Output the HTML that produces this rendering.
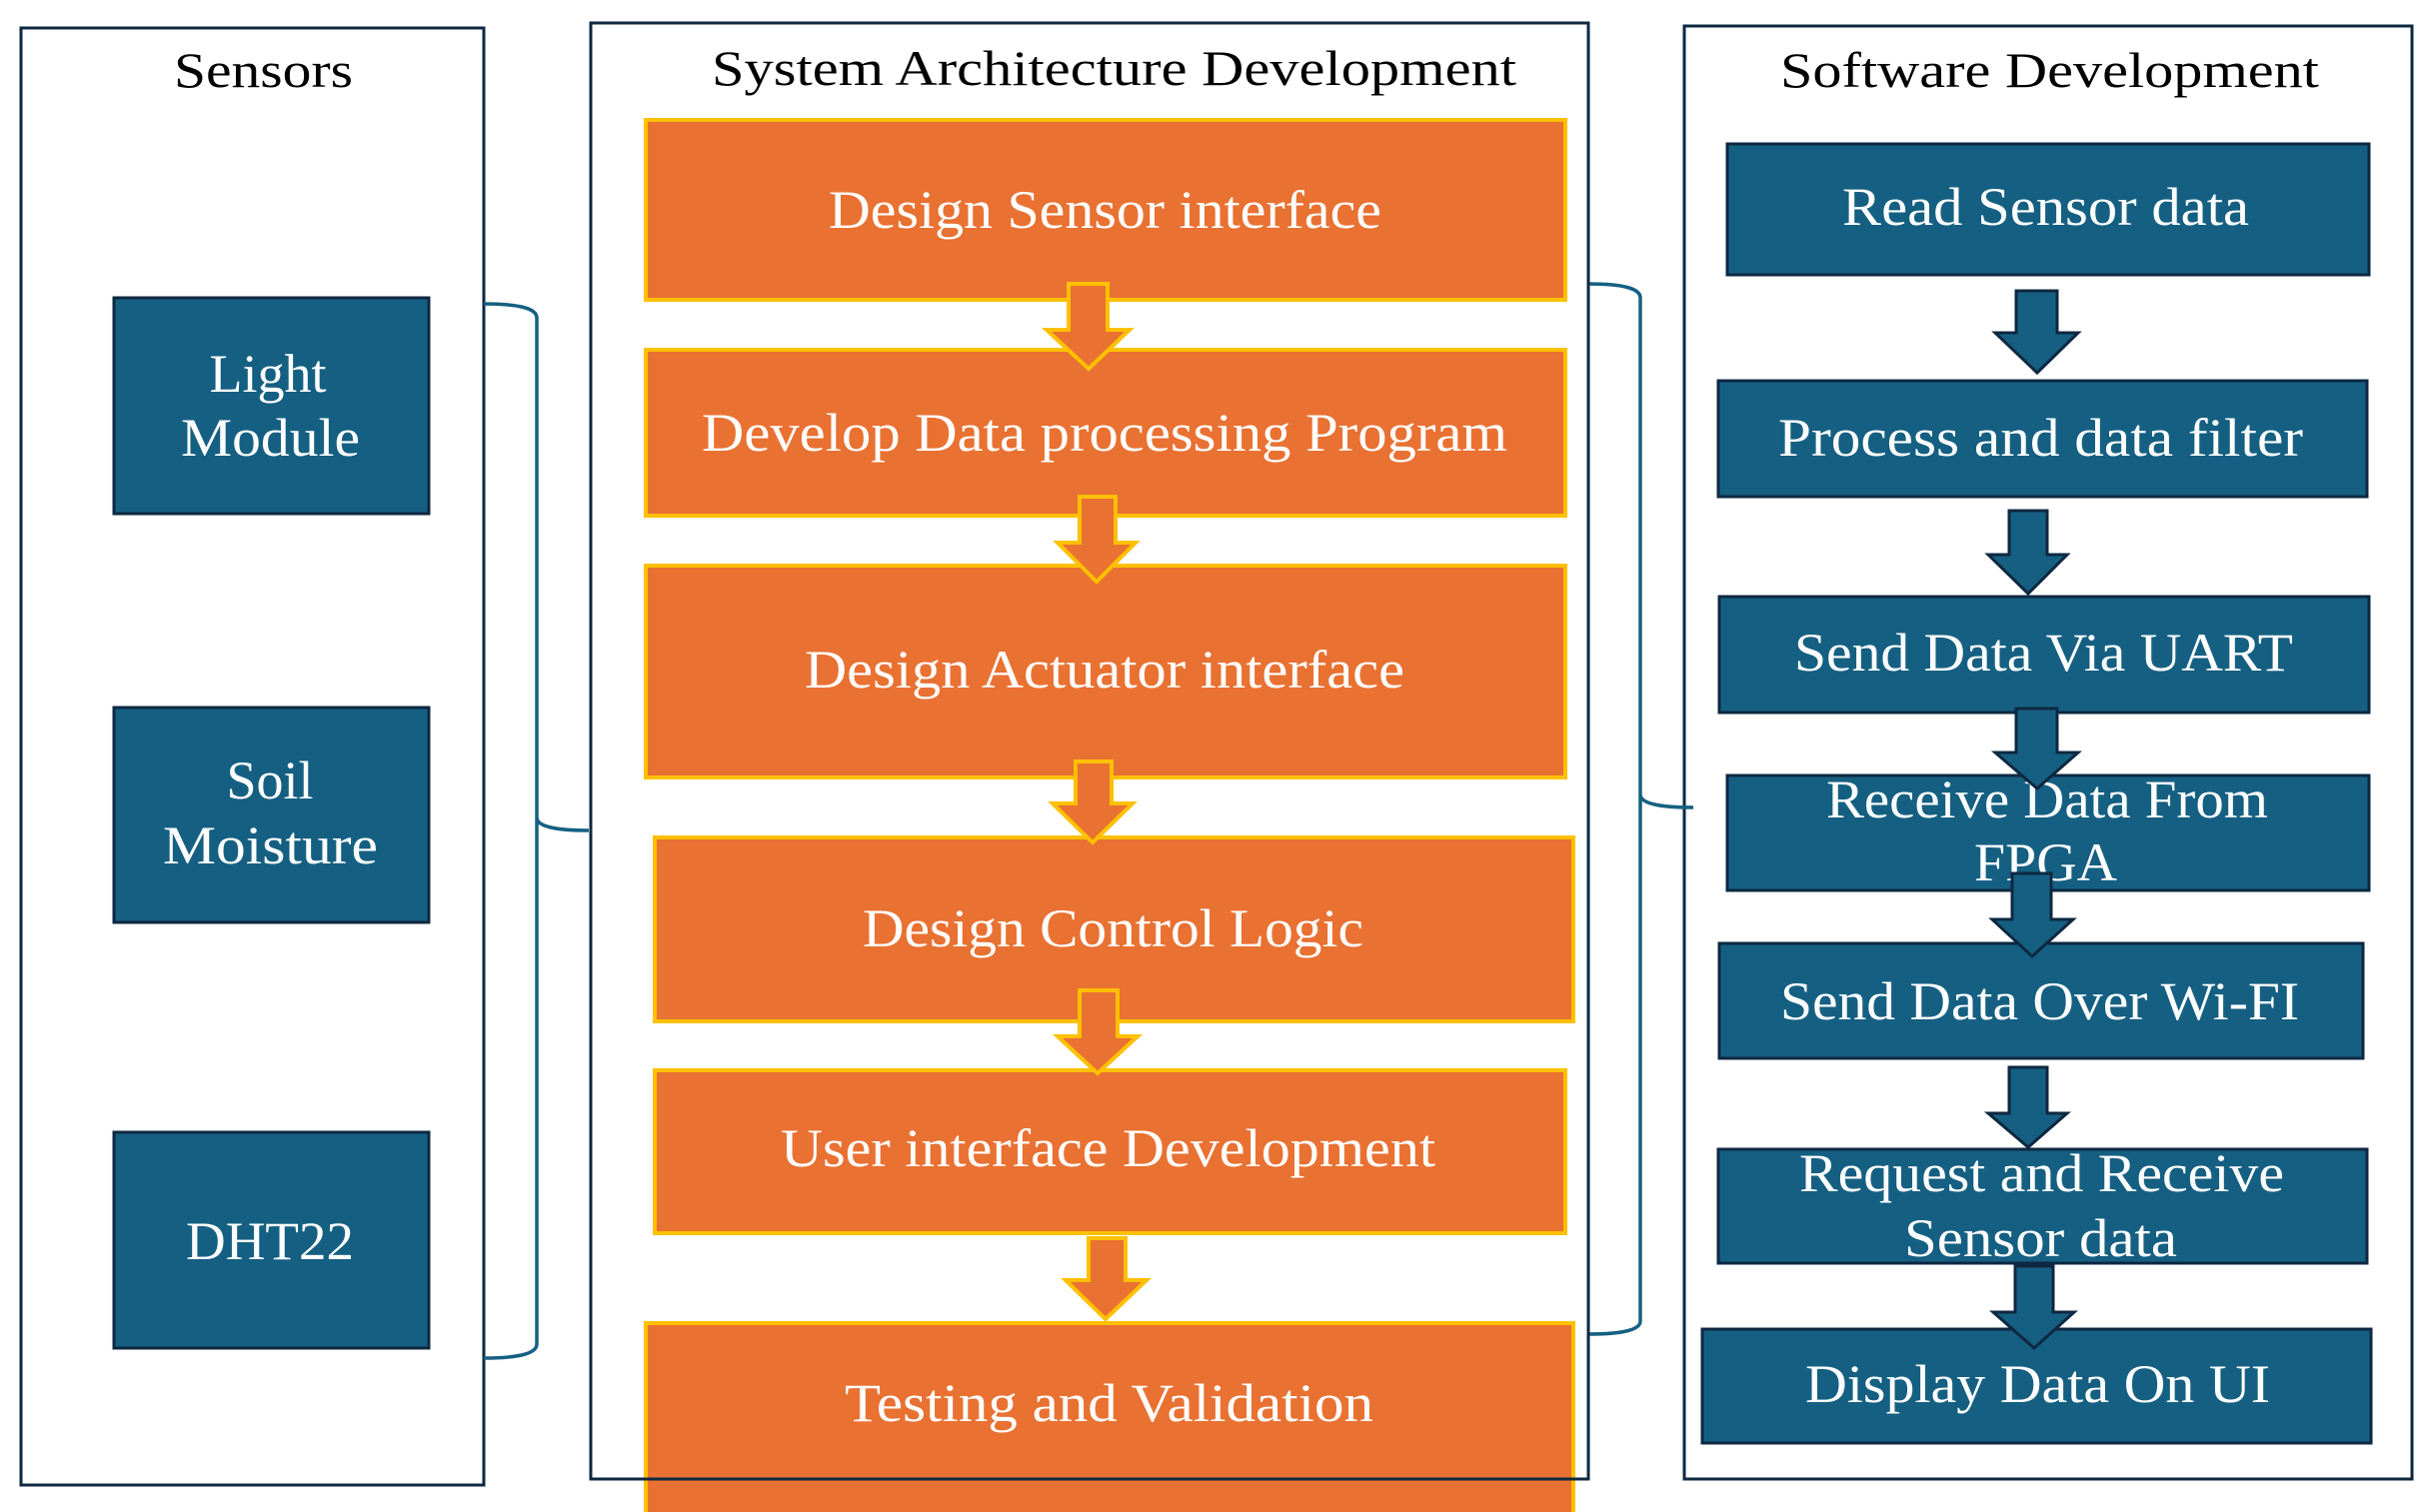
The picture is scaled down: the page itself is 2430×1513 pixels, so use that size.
<!DOCTYPE html>
<html><head><meta charset="utf-8"><style>html,body{margin:0;padding:0;background:#fff}svg{display:block}</style></head>
<body>
<svg xmlns="http://www.w3.org/2000/svg" width="2430" height="1513" viewBox="0 0 2430 1513" font-family="'Liberation Serif', serif">
<rect width="2430" height="1513" fill="#fff"/>
<!-- frames -->
<g fill="none" stroke="#0E2841" stroke-width="3">
<rect x="21" y="28" width="463" height="1458"/>
<rect x="1685" y="26" width="728" height="1454"/>
</g>
<!-- sensors -->
<g fill="#156082" stroke="#0E2841" stroke-width="3">
<rect x="114" y="298" width="315" height="216"/>
<rect x="114" y="708" width="315" height="215"/>
<rect x="114" y="1133" width="315" height="216"/>
</g>
<g fill="none" stroke="#156082" stroke-width="3.5">
<path d="M484 304 Q537 304 537 318 L537 818 Q537 831 589 831 M537 818 Q537 831 537 845 L537 1345 Q537 1359 484 1359"/>
<path d="M1589 284 Q1641 284 1641 298 L1641 795 Q1641 808 1694 808 M1641 795 Q1641 808 1641 822 L1641 1322 Q1641 1335 1589 1335"/>
</g>
<!-- orange boxes -->
<g fill="#E97132" stroke="#FFC000" stroke-width="4">
<rect x="646" y="120" width="920" height="180"/>
<rect x="646" y="350" width="920" height="166"/>
<rect x="646" y="566" width="920" height="212"/>
<rect x="655" y="838" width="919" height="184"/>
<rect x="655" y="1071" width="911" height="163"/>
<rect x="646" y="1324" width="928" height="200"/>
</g>
<rect x="591" y="23" width="998" height="1457" fill="none" stroke="#0E2841" stroke-width="3"/>
<g fill="#E97132" stroke="#FFC000" stroke-width="4" stroke-linejoin="miter">
<path d="M1069 284 H1108 V330 H1130 L1089 369 L1047 330 H1069 Z"/>
<path d="M1080 497 H1116 V543 H1136 L1097 582 L1058 543 H1080 Z"/>
<path d="M1076 762 H1112 V804 H1133 L1093 843 L1053 804 H1076 Z"/>
<path d="M1080 991 H1118 V1037 H1138 L1098 1074 L1058 1037 H1080 Z"/>
<path d="M1089 1239 H1126 V1281 H1147 L1106 1320 L1066 1281 H1089 Z"/>
</g>
<!-- blue right boxes -->
<g fill="#156082" stroke="#0E2841" stroke-width="3">
<rect x="1728" y="144" width="642" height="131"/>
<rect x="1719" y="381" width="649" height="116"/>
<rect x="1720" y="597" width="650" height="116"/>
<rect x="1728" y="776" width="642" height="115"/>
<rect x="1720" y="944" width="644" height="115"/>
<rect x="1719" y="1150" width="649" height="114"/>
<rect x="1703" y="1330" width="669" height="114"/>
</g>
<!-- text -->
<g font-size="50" fill="#000" text-anchor="start">
<text x="174" y="87" textLength="179" lengthAdjust="spacingAndGlyphs">Sensors</text>
<text x="712" y="85" textLength="805" lengthAdjust="spacingAndGlyphs">System Architecture Development</text>
<text x="1781" y="87" textLength="539" lengthAdjust="spacingAndGlyphs">Software Development</text>
</g>
<g font-size="54" fill="#fff">
<text x="268" y="392" text-anchor="middle">Light</text>
<text x="181" y="456" textLength="179" lengthAdjust="spacingAndGlyphs">Module</text>
<text x="270" y="799" text-anchor="middle">Soil</text>
<text x="163" y="864" textLength="215" lengthAdjust="spacingAndGlyphs">Moisture</text>
<text x="186" y="1260" textLength="168" lengthAdjust="spacingAndGlyphs">DHT22</text>
<text x="829" y="228" textLength="553" lengthAdjust="spacingAndGlyphs">Design Sensor interface</text>
<text x="702" y="451" textLength="806" lengthAdjust="spacingAndGlyphs">Develop Data processing Program</text>
<text x="805" y="688" textLength="600" lengthAdjust="spacingAndGlyphs">Design Actuator interface</text>
<text x="863" y="947" textLength="501" lengthAdjust="spacingAndGlyphs">Design Control Logic</text>
<text x="781" y="1167" textLength="655" lengthAdjust="spacingAndGlyphs">User interface Development</text>
<text x="845" y="1422" textLength="529" lengthAdjust="spacingAndGlyphs">Testing and Validation</text>
<text x="1843" y="225" textLength="407" lengthAdjust="spacingAndGlyphs">Read Sensor data</text>
<text x="1779" y="456" textLength="525" lengthAdjust="spacingAndGlyphs">Process and data filter</text>
<text x="1795" y="671" textLength="499" lengthAdjust="spacingAndGlyphs">Send Data Via UART</text>
<text x="1827" y="818" textLength="442" lengthAdjust="spacingAndGlyphs">Receive Data From</text>
<text x="1975" y="881" textLength="143" lengthAdjust="spacingAndGlyphs">FPGA</text>
<text x="1781" y="1020" textLength="519" lengthAdjust="spacingAndGlyphs">Send Data Over Wi-FI</text>
<text x="1800" y="1192" textLength="485" lengthAdjust="spacingAndGlyphs">Request and Receive</text>
<text x="1905" y="1257" textLength="273" lengthAdjust="spacingAndGlyphs">Sensor data</text>
<text x="1806" y="1403" textLength="465" lengthAdjust="spacingAndGlyphs">Display Data On UI</text>
</g>
<!-- blue arrows on top -->
<g fill="#156082" stroke="#0E2841" stroke-width="3">
<path d="M2017 291 H2058 V333 H2079 L2038 373 L1996 333 H2017 Z"/>
<path d="M2010 511 H2048 V555 H2068 L2029 594 L1989 555 H2010 Z"/>
<path d="M2017 709 H2058 V753 H2079 L2038 789 L1996 753 H2017 Z"/>
<path d="M2013 874 H2052 V920 H2074 L2033 957 L1993 920 H2013 Z"/>
<path d="M2010 1068 H2048 V1114 H2068 L2029 1148 L1989 1114 H2010 Z"/>
<path d="M2016 1267 H2054 V1313 H2075 L2035 1349 L1994 1313 H2016 Z"/>
</g>
</svg>
</body></html>
